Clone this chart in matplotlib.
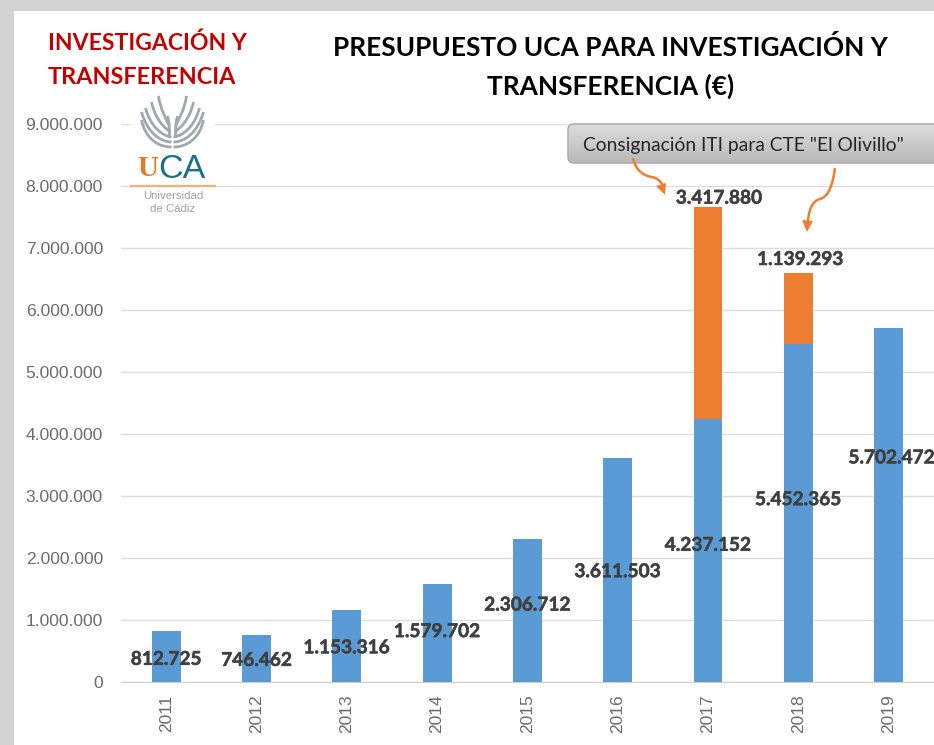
import numpy as np
import matplotlib
matplotlib.use('Agg')
import matplotlib.pyplot as plt
import matplotlib.patheffects as pe
from matplotlib.colors import LinearSegmentedColormap
from matplotlib.patches import FancyBboxPatch, PathPatch, Polygon, Rectangle
from matplotlib.path import Path
from matplotlib.transforms import ScaledTranslation

years = ['2011', '2012', '2013', '2014', '2015', '2016', '2017', '2018', '2019']
presupuesto = [812725, 746462, 1153316, 1579702, 2306712, 3611503, 4237152, 5452365, 5702472]
consignacion = [0, 0, 0, 0, 0, 0, 3417880, 1139293, 0]
yticks = [0, 1000000, 2000000, 3000000, 4000000, 5000000, 6000000, 7000000, 8000000, 9000000]

# label offsets from the bar middle, in pixels (the labels were moved by hand in the original)
blue_offsets = [(0, -3), (0, -2), (0, -2), (0, 1), (0, 5), (0, -2), (0, 5), (0, 13), (3, 47)]
orange_offsets = {6: (11, 115), 7: (2, 49)}

BLUE = '#5B9BD5'
ORANGE = '#ED7D31'
W, H = 934, 745
label_fx = [pe.withStroke(linewidth=0.4, foreground='#404040')]


def fmt(v):
    return f'{v:,.0f}'.replace(',', '.')


fig = plt.figure(figsize=(W / 100, H / 100), dpi=100, facecolor='#d2d2d2')

# overlay in pixel coordinates, for the slide background and decorations
bg = fig.add_axes([0, 0, 1, 1], zorder=0)
bg.set_xlim(0, W)
bg.set_ylim(H, 0)
bg.axis('off')
bg.add_patch(Rectangle((14, 11), W, H, fc='white', ec='none'))

# chart: y=0 at px 681.5, 9M at px 124, first bar centre 166, spacing 90.3
ax = fig.add_axes([121 / W, 1 - 681.5 / H, (W - 121) / W, (681.5 - 124) / H], zorder=1)
ax.patch.set_alpha(0)
x = np.arange(len(years))
ax.bar(x, presupuesto, width=0.32, color=BLUE, zorder=3)
ax.bar(x, consignacion, width=0.32, bottom=presupuesto, color=ORANGE, zorder=3)
ax.set_xlim(-0.5006, 8.503)
ax.set_ylim(0, 9000000)
ax.set_yticks(yticks)
ax.set_yticklabels([fmt(v) for v in yticks], family='Liberation Sans', fontsize=12.6, color='#6b6b6b')
ax.set_xticks(x)
ax.set_xticklabels(years, rotation=90, family='Liberation Sans', fontsize=12.5, color='#6b6b6b')
# tick labels sit slightly right of the bar centre
shift = ScaledTranslation(2 / 100, 0, fig.dpi_scale_trans)
for lab in ax.get_xticklabels():
    lab.set_transform(lab.get_transform() + shift)
ax.tick_params(length=0)
ax.tick_params(axis='y', pad=13)
ax.tick_params(axis='x', pad=9)
ax.grid(axis='y', color='#dcdcdc', lw=1, zorder=0)
for s in ['top', 'right', 'left']:
    ax.spines[s].set_visible(False)
ax.spines['bottom'].set_color('#d0d0d0')

for i, v in enumerate(presupuesto):
    ax.annotate(fmt(v), (x[i], v / 2), xytext=blue_offsets[i], textcoords='offset pixels',
                ha='center', va='center', family='Lato', weight='bold', fontsize=13.7,
                color='#404040', zorder=5, annotation_clip=False, path_effects=label_fx)
for i, off in orange_offsets.items():
    ax.annotate(fmt(consignacion[i]), (x[i], presupuesto[i] + consignacion[i] / 2), xytext=off,
                textcoords='offset pixels', ha='center', va='center', family='Lato', weight='bold',
                fontsize=13.7, color='#404040', zorder=5, annotation_clip=False, path_effects=label_fx)

# decorations on top
top = fig.add_axes([0, 0, 1, 1], zorder=2)
top.set_xlim(0, W)
top.set_ylim(H, 0)
top.axis('off')

top.text(48, 43.5, 'INVESTIGACIÓN Y', family='Lato', weight='bold', fontsize=16.6, color='#C00000', va='center')
top.text(48, 77.5, 'TRANSFERENCIA', family='Lato', weight='bold', fontsize=16.8, color='#C00000', va='center')
top.text(610.5, 48, 'PRESUPUESTO UCA PARA INVESTIGACIÓN Y', family='Lato', weight='bold', fontsize=18.9,
         color='black', ha='center', va='center')
top.text(610.5, 86, 'TRANSFERENCIA (€)', family='Lato', weight='bold', fontsize=18.9,
         color='black', ha='center', va='center')

# logo
top.add_patch(Rectangle((131, 95), 84, 90, fc='white', ec='none'))
cx = 172.5
strands = [
    [(1, 147), (14, 147), (27, 139), (31, 120)],
    [(1, 142), (12, 142), (25, 133), (31, 112)],
    [(1, 137), (10, 136), (22, 127), (27, 108)],
    [(2, 132), (8, 128), (17, 120), (21, 102)],
    [(3, 126), (6, 120), (12, 110), (14, 96)],
    [(3, 138), (3, 130), (3, 124), (5, 116)],
]
for side in (-1, 1):
    for s in strands:
        verts = [(cx + side * dx, y) for dx, y in s]
        top.add_patch(PathPatch(Path(verts, [Path.MOVETO, Path.CURVE4, Path.CURVE4, Path.CURVE4]),
                                fc='none', ec='#a4a8aa', lw=2.0))
top.text(158, 169, 'U', family='Liberation Serif', fontsize=21, color='#D9802E', va='center', ha='right', weight='bold')
top.text(158.5, 169, 'CA', family='Liberation Sans', fontsize=24.5, color='#1F6F8B', va='center', ha='left')
top.plot([131, 215], [186, 186], color='#EDB27C', lw=1.6)
top.text(173, 196, 'Universidad', family='Liberation Sans', fontsize=8.2, color='#a0a0a0', ha='center', va='center')
top.text(173, 209, 'de Cádiz', family='Liberation Sans', fontsize=8.2, color='#a0a0a0', ha='center', va='center')

# callout box with a vertical gradient
box = FancyBboxPatch((568, 124), 400, 39, boxstyle='round,pad=0,rounding_size=6', fc='none', ec='#b0b0b0', lw=1.2)
top.add_patch(box)
grad = top.imshow(np.linspace(0, 1, 64).reshape(-1, 1), extent=(568, 968, 163, 124), aspect='auto',
                  cmap=LinearSegmentedColormap.from_list('g', ['#dcdcdc', '#b9b9b9']))
grad.set_clip_path(box)
top.set_xlim(0, W)
top.set_ylim(H, 0)
top.text(583, 145, 'Consignación ITI para CTE "El Olivillo"', family='Lato', fontsize=13.9, color='#262626', va='center')

# curved arrows
c4 = Path.CURVE4
arrow1 = Path([(633, 158), (636, 172), (645, 176), (652, 177), (657, 178), (661, 181), (663, 186)],
              [Path.MOVETO, c4, c4, c4, c4, c4, c4])
arrow2 = Path([(835, 168), (833, 183), (829, 197), (820, 199), (812, 201), (809, 210), (808, 221)],
              [Path.MOVETO, c4, c4, c4, c4, c4, c4])
for p in (arrow1, arrow2):
    top.add_patch(PathPatch(p, fc='none', ec=ORANGE, lw=1.8))
top.add_patch(Polygon([(665, 195), (656, 186), (666, 183)], fc=ORANGE, ec='none'))
top.add_patch(Polygon([(807, 232), (802, 220), (813, 221)], fc=ORANGE, ec='none'))

fig.savefig('out.png', dpi=100, facecolor=fig.get_facecolor())
